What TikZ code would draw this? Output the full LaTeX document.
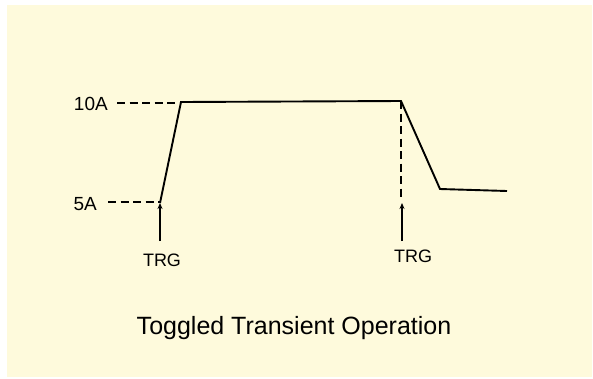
\documentclass[tikz,border=0pt]{standalone}
\usepackage{fontspec}
\setmainfont{Liberation Sans}
\usetikzlibrary{arrows.meta}
\definecolor{paper}{RGB}{254,250,220}
\begin{document}
\begin{tikzpicture}[x=1pt,y=-1pt,
  wave/.style={line width=1.9pt,line join=miter,black},
  guide/.style={line width=1.7pt,dash pattern=on 8pt off 4.5pt,black},
  trig/.style={line width=1.7pt,-{Stealth[length=6pt,width=5pt]},black},
  lvl/.style={font=\fontsize{19}{19}\selectfont,inner sep=0pt,anchor=east},
  trglbl/.style={font=\fontsize{18}{18}\selectfont,inner sep=0pt}]
  % page and panel
  \fill[white] (0,0) rectangle (593,378);
  \useasboundingbox (0,0) rectangle (593,378);
  \fill[paper] (7,5) rectangle (592,377);

  % waveform corners
  \coordinate (p0) at (160,203);
  \coordinate (p1) at (181,102);
  \coordinate (p2) at (401,101);
  \coordinate (p3) at (440,189);
  \coordinate (p4) at (507,191);

  % level labels with dashed guides
  \node[lvl] (l10) at (108,104) {10A};
  \node[lvl] (l5) at (97,204) {5A};
  \draw[guide] (l10.east) ++(9,-1) coordinate (g10) -- (g10 -| p1);
  \draw[guide] (l5.east) ++(11,-2) coordinate (g5) -- (g5 -| p0);

  % current waveform
  \draw[wave] (p0) -- (p1) -- (p2) -- (p3) -- (p4);

  % trigger markers
  \coordinate (t1) at (160,241);
  \coordinate (t2) at (402,241);
  \coordinate (t2top) at (402,203);
  \draw[guide] (p2) -- (401,198);
  \draw[trig] (t1) -- (p0);
  \draw[trig] (t2) -- (t2top);
  \node[trglbl] (trg1) at (162,260) {TRG};
  \node[trglbl] (trg2) at (413,256) {TRG};

  % caption
  \node[font=\fontsize{25}{25}\selectfont,inner sep=0pt] (cap) at (294,328) {Toggled Transient Operation};
\end{tikzpicture}
\end{document}
